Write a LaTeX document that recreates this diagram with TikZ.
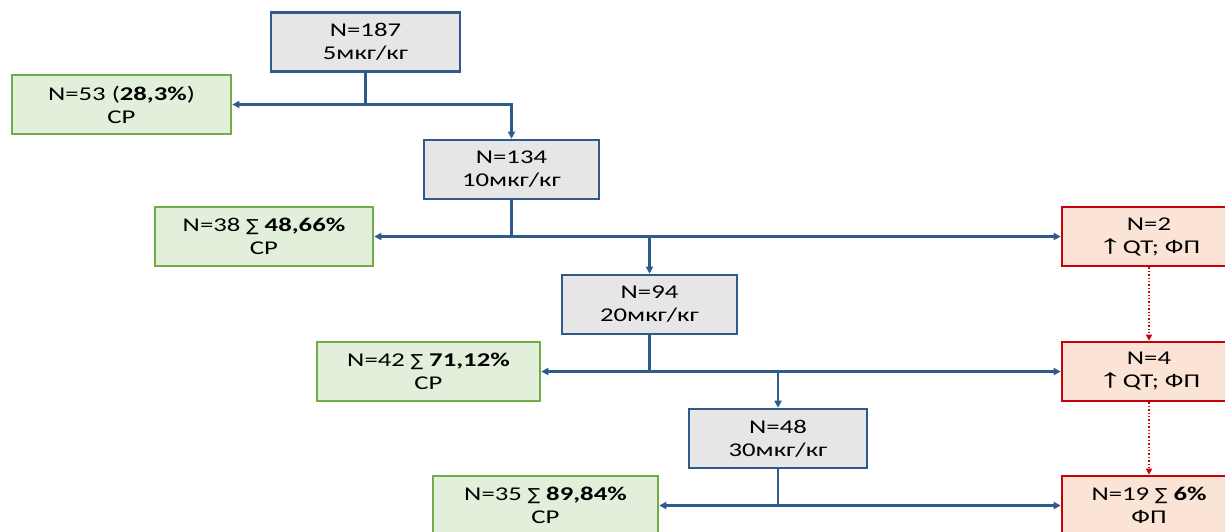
\documentclass[tikz,border=0pt]{standalone}
\usepackage{fontspec}
\setmainfont[FakeStretch=1.37]{Carlito}
\newfontfamily\symfont[FakeStretch=1.1,Scale=0.85]{DejaVu Sans}
\newfontfamily\arrowfont[FakeStretch=1.9,Scale=1.35]{Liberation Sans}
\usetikzlibrary{arrows.meta}
\definecolor{doseblue}{HTML}{2F5A8C}
\definecolor{dosegray}{HTML}{E7E6E6}
\definecolor{srgreen}{HTML}{70AD47}
\definecolor{srfill}{HTML}{E2EFDA}
\definecolor{fpred}{HTML}{C8000A}
\definecolor{fpfill}{HTML}{FBE4D6}
\newcommand{\summ}{{\symfont\char"2211}}
\newcommand{\qtup}{{\arrowfont\char"2191}}
\begin{document}
\begin{tikzpicture}[x=1pt, y=-1pt,
    box/.style={draw, line width=2.6pt, minimum height=59pt, inner sep=0pt,
        align=center, font=\fontsize{19.5}{23}\selectfont},
    dose/.style={box, draw=doseblue, fill=dosegray},
    srbox/.style={box, draw=srgreen, fill=srfill},
    fpbox/.style={box, draw=fpred, fill=fpfill, minimum width=174pt},
    conn/.style={draw=doseblue, line width=2.3pt,
        -{Triangle[length=7pt,width=7pt]}},
    fplink/.style={draw=fpred, line width=1.4pt, dotted,
        -{Triangle[length=6pt,width=6pt]}}]
    \useasboundingbox (0,0) rectangle (1225,531);

    % dose steps
    \node[dose, minimum width=189pt] (d5) at (365.5,42) {N=187\\5мкг/кг};
    \node[dose, minimum width=175pt] (d10) at (511.5,169.5) {N=134\\10мкг/кг};
    \node[dose, minimum width=175pt] (d20) at (649.5,304.5) {N=94\\20мкг/кг};
    \node[dose, minimum width=178pt] (d30) at (778,438.5) {N=48\\30мкг/кг};

    % sinus rhythm restored
    \node[srbox, minimum width=219pt] (s1) at (121.5,104.5) {N=53 (\textbf{28,3\%})\\СР};
    \node[srbox, minimum width=218pt] (s2) at (264,236.5) {N=38 \summ{} \textbf{48,66\%}\\СР};
    \node[srbox, minimum width=223pt] (s3) at (428.5,371.5) {N=42 \summ{} \textbf{71,12\%}\\СР};
    \node[srbox, minimum width=225pt] (s4) at (545.5,505.5) {N=35 \summ{} \textbf{89,84\%}\\СР};

    % adverse events
    \node[fpbox] (f1) at (1149,236.5) {N=2\\\qtup QT; ФП};
    \node[fpbox] (f2) at (1149,371.5) {N=4\\\qtup QT; ФП};
    \node[fpbox] (f3) at (1149,505.5) {N=19 \summ{} \textbf{6\%}\\ФП};

    % connectors
    \draw[conn] (d5.south) |- (s1.east);
    \draw[conn] (d5.south |- s1.east) -| (d10.north);

    \draw[conn] (d10.south) |- (s2.east);
    \draw[conn] (d10.south |- s2.east) -- (f1.west);
    \draw[conn] (d20.north |- s2.east) -- (d20.north);

    \draw[conn] (d20.south) |- (s3.east);
    \draw[conn] (d20.south |- s3.east) -- (f2.west);
    \draw[conn] (d30.north |- s3.east) -- (d30.north);

    \draw[conn] (d30.south) |- (s4.east);
    \draw[conn] (d30.south |- s4.east) -- (f3.west);

    \draw[fplink] (f1.south) -- (f2.north);
    \draw[fplink] (f2.south) -- (f3.north);
\end{tikzpicture}
\end{document}
